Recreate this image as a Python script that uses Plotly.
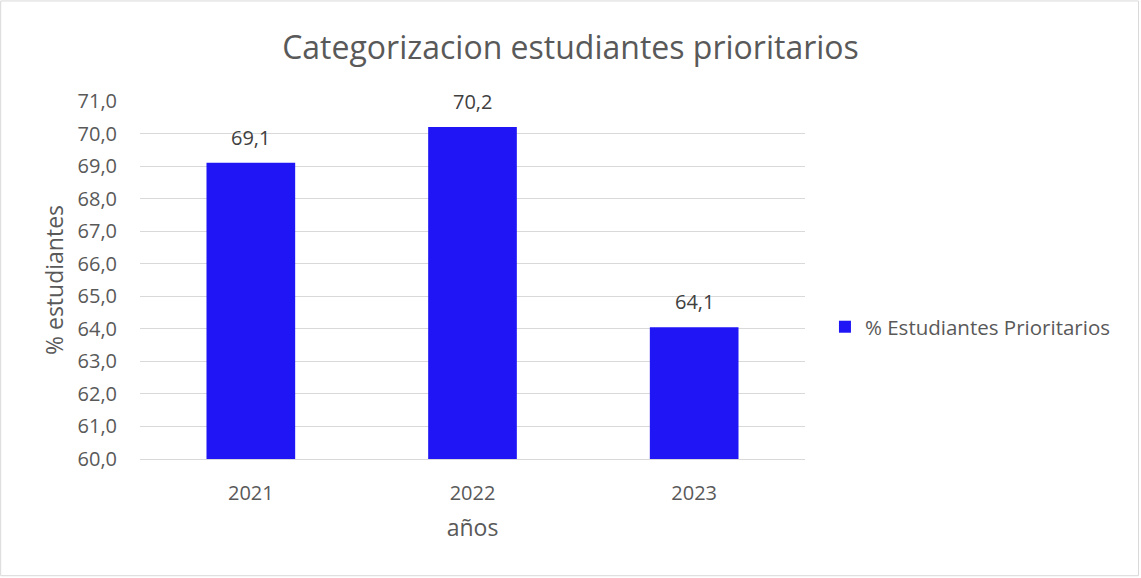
import plotly.graph_objects as go

years = ["2021", "2022", "2023"]
values = [69.1, 70.2, 64.05]
labels = ["69,1", "70,2", "64,1"]
series_name = "% Estudiantes Prioritarios"
title = "Categorizacion estudiantes prioritarios"

GRAY = "#595959"
fig = go.Figure()
fig.add_trace(go.Bar(
    x=years, y=values, name=series_name,
    marker=dict(color="#1F15F5", line=dict(width=0)),
    width=0.4,
))

for i, (v, lab) in enumerate(zip(values, labels)):
    fig.add_annotation(x=i, y=v, text=lab, showarrow=False,
                       xanchor="center", yanchor="bottom", yshift=10,
                       font=dict(size=20, color="#404040"))

fig.update_layout(
    width=1141, height=578,
    paper_bgcolor="white", plot_bgcolor="white",
    font=dict(family="Open Sans, Noto Sans, sans-serif", color=GRAY),
    separators=",.",
    title=dict(text=title, x=0.5, xanchor="center", y=0.917, yanchor="middle",
               font=dict(size=32, color=GRAY)),
    margin=dict(l=140, r=336, t=101, b=119),
    showlegend=True,
    legend=dict(x=1.03, y=0.369, xanchor="left", yanchor="middle",
                font=dict(size=20.5, color=GRAY), bgcolor="rgba(0,0,0,0)"),
    xaxis=dict(type="category", range=[-0.5, len(years) - 0.5],
               showgrid=False, showline=True, linecolor="#D9D9D9", linewidth=1,
               tickfont=dict(size=20, color=GRAY), ticks="", ticklabelstandoff=16,
               title=dict(text="años", font=dict(size=23, color=GRAY), standoff=14)),
    yaxis=dict(range=[60, 71], dtick=1, tickformat=".1f",
               showgrid=True, gridcolor="#D9D9D9", gridwidth=1, zeroline=False,
               tickfont=dict(size=20, color=GRAY), ticklabelstandoff=22,
               title=dict(text="% estudiantes", font=dict(size=23, color=GRAY), standoff=7)),
    shapes=[dict(type="rect", xref="paper", yref="paper",
                 x0=-0.2095, x1=1.5015, y0=-0.326, y1=1.2795,
                 line=dict(color="#D9D9D9", width=1), fillcolor="rgba(0,0,0,0)", layer="below")],
)

fig.write_html("out.html", config={"displayModeBar": False},
               post_script="document.body.style.margin='0';")
